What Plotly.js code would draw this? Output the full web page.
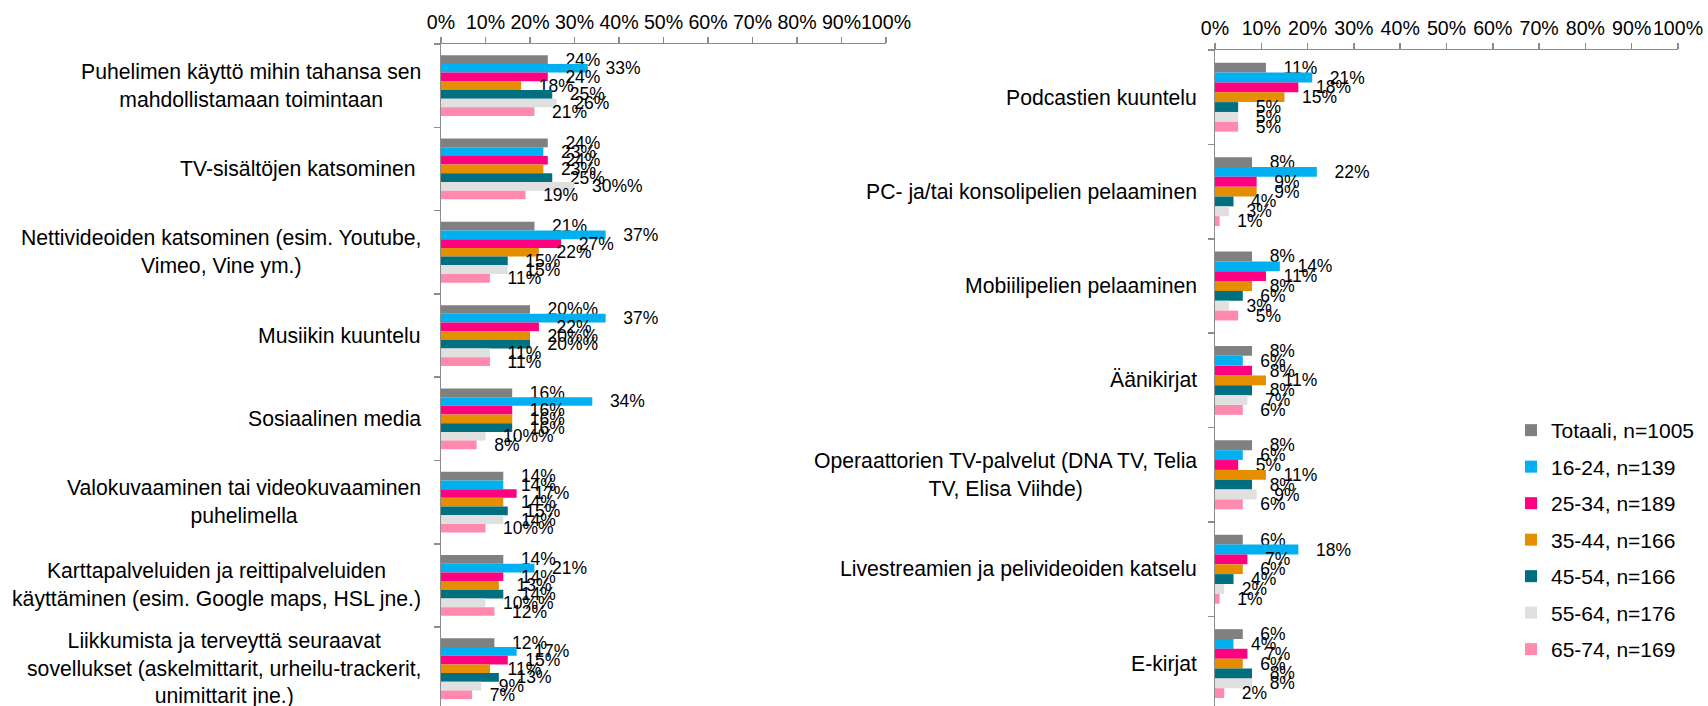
<!DOCTYPE html>
<html>
<head>
<meta charset="utf-8">
<script src="https://cdn.plot.ly/plotly-3.0.1.min.js"></script>
<style>html,body{margin:0;padding:0;background:#fff;overflow:hidden}#chart{width:1708px;height:706px}</style>
</head>
<body>
<div id="chart"></div>
<script>
const seriesNames = ['Totaali, n=1005','16-24, n=139','25-34, n=189','35-44, n=166','45-54, n=166','55-64, n=176','65-74, n=169'];
const seriesColors = ['#808080','#00B0F0','#FF0080','#E48E00','#006F7F','#E0E0E0','#FF8AAE'];

const leftCategories = [
  'Puhelimen käyttö mihin tahansa sen<br>mahdollistamaan toimintaan',
  'TV-sisältöjen katsominen\u00a0',
  'Nettivideoiden katsominen (esim. Youtube,<br>Vimeo, Vine ym.)',
  'Musiikin kuuntelu',
  'Sosiaalinen media',
  'Valokuvaaminen tai videokuvaaminen<br>puhelimella',
  'Karttapalveluiden ja reittipalveluiden<br>käyttäminen (esim. Google maps, HSL jne.)',
  'Liikkumista ja terveyttä seuraavat<br>sovellukset (askelmittarit, urheilu-trackerit,<br>unimittarit jne.)'
];
const totaaliL = [24,24,21,20,16,14,14,12];
const a1624L   = [33,23,37,37,34,14,21,17];
const a2534L   = [24,24,27,22,16,17,14,15];
const a3544L   = [18,23,22,20,16,14,13,11];
const a4554L   = [25,25,15,20,16,15,14,13];
const a5564L   = [26,30,15,11,10,14,10,9];
const a6574L   = [21,19,11,11,8,10,12,7];

const rightCategories = [
  'Podcastien kuuntelu',
  'PC- ja/tai konsolipelien pelaaminen',
  'Mobiilipelien pelaaminen',
  'Äänikirjat',
  'Operaattorien TV-palvelut (DNA TV, Telia<br>TV, Elisa Viihde)',
  'Livestreamien ja pelivideoiden katselu',
  'E-kirjat'
];
const totaaliR = [11,8,8,8,8,6,6];
const a1624R   = [21,22,14,6,6,18,4];
const a2534R   = [18,9,11,8,5,7,7];
const a3544R   = [15,9,8,11,11,6,6];
const a4554R   = [5,4,6,8,8,4,8];
const a5564R   = [5,3,3,7,9,2,8];
const a6574R   = [5,1,5,6,6,1,2];

const xTickVals = [0,10,20,30,40,50,60,70,80,90,100];

const leftSeries = [totaaliL,a1624L,a2534L,a3544L,a4554L,a5564L,a6574L];
const rightSeries = [totaaliR,a1624R,a2534R,a3544R,a4554R,a5564R,a6574R];

const W = 1708, H = 706;
const FONT = '"Liberation Sans", Arial, sans-serif';
const axisGray = '#8C8C8C';

const traces = [];
leftSeries.forEach((vals, i) => {
  traces.push({
    type: 'bar', orientation: 'h', x: vals, y: leftCategories,
    name: seriesNames[i], xaxis: 'x', yaxis: 'y',
    marker: {color: seriesColors[i]},
    texttemplate: '\u00a0\u00a0\u00a0%{x}%', textposition: 'outside', constraintext: 'none',
    textfont: {family: FONT, size: 17.5, color: '#000'}, cliponaxis: false,
    legendgroup: 'g' + i, showlegend: true, hoverinfo: 'skip'
  });
});
rightSeries.forEach((vals, i) => {
  traces.push({
    type: 'bar', orientation: 'h', x: vals, y: rightCategories,
    name: seriesNames[i], xaxis: 'x2', yaxis: 'y2',
    marker: {color: seriesColors[i]},
    texttemplate: '\u00a0\u00a0\u00a0%{x}%', textposition: 'outside', constraintext: 'none',
    textfont: {family: FONT, size: 17.5, color: '#000'}, cliponaxis: false,
    legendgroup: 'g' + i, showlegend: false, hoverinfo: 'skip'
  });
});

function xAxis(domain, anchor) {
  return {
    domain: domain, anchor: anchor, side: 'top', range: [0, 100],
    tickvals: xTickVals, ticktext: xTickVals.map(v => v + '%'), tickangle: 0,
    showgrid: false, zeroline: false, showline: true, linecolor: axisGray, linewidth: 1.5,
    ticks: 'outside', ticklen: 6, tickcolor: axisGray, tickwidth: 1.5,
    tickfont: {family: FONT, size: 19.6, color: '#000'}, fixedrange: true
  };
}
function yAxis(domain, anchor, range) {
  return {
    domain: domain, anchor: anchor, type: 'category', range: range,
    tickson: 'boundaries', ticks: 'outside', ticklen: 6, tickcolor: axisGray, tickwidth: 1.5,
    showline: true, linecolor: axisGray, linewidth: 1.5, showgrid: false, zeroline: false,
    showticklabels: false, fixedrange: true
  };
}

const annotations = [];
leftCategories.forEach(c => annotations.push({
  xref: 'paper', yref: 'y', x: 423 / W, y: c, xanchor: 'right', yanchor: 'middle',
  text: c, align: 'center', showarrow: false, font: {family: FONT, size: 21.2, color: '#000'}
}));
rightCategories.forEach(c => annotations.push({
  xref: 'paper', yref: 'y2', x: 1199 / W, y: c, xanchor: 'right', yanchor: 'middle',
  text: c, align: 'center', showarrow: false, font: {family: FONT, size: 21.2, color: '#000'}
}));

const layout = {
  width: W, height: H,
  margin: {l: 0, r: 0, t: 0, b: 0},
  paper_bgcolor: '#fff', plot_bgcolor: '#fff',
  barmode: 'group', bargap: 0.27, bargroupgap: 0,
  font: {family: FONT, color: '#000', size: 21},
  xaxis: xAxis([441 / W, 886 / W], 'y'),
  yaxis: yAxis([0, 1 - 44 / H], 'x', [7.447, -0.5]),
  xaxis2: xAxis([1215 / W, 1678 / W], 'y2'),
  yaxis2: yAxis([0, 1 - 50 / H], 'x2', [6.449, -0.5]),
  showlegend: true,
  legend: {
    x: 1511 / W, xanchor: 'left', y: 1 - 410 / H, yanchor: 'top',
    traceorder: 'grouped', tracegroupgap: 6.2, bgcolor: 'rgba(0,0,0,0)',
    font: {family: FONT, size: 21, color: '#000'}
  },
  annotations: annotations
};

Plotly.newPlot('chart', traces, layout, {displayModeBar: false, staticPlot: true});
</script>
</body>
</html>
